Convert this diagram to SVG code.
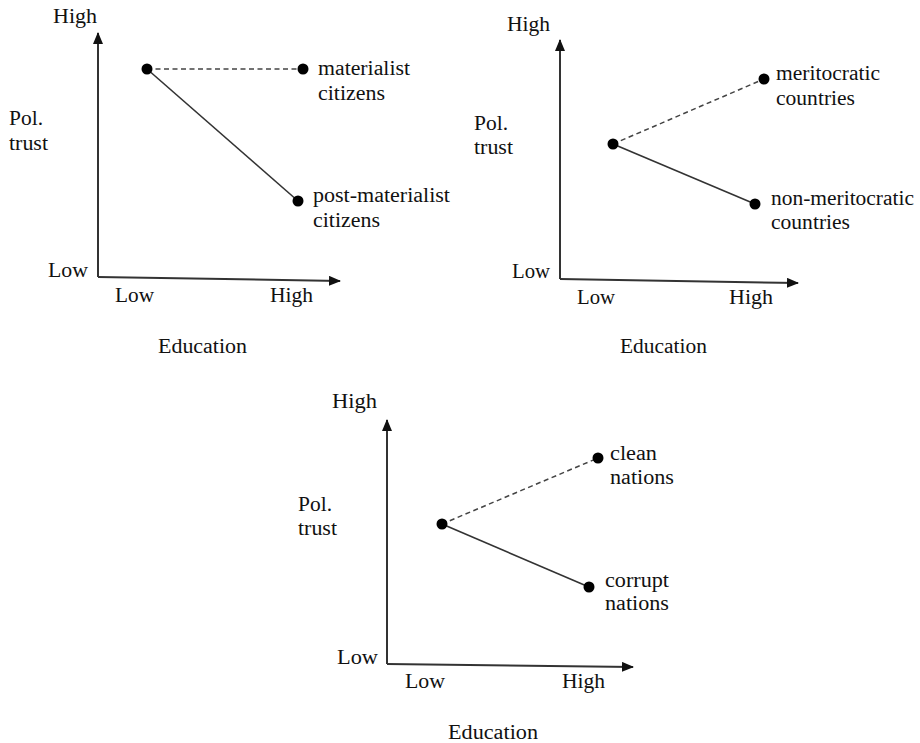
<svg xmlns="http://www.w3.org/2000/svg" width="920" height="743" viewBox="0 0 920 743">
<style>
text{font-family:'Liberation Serif','Times New Roman',serif;font-size:20px;fill:#111}
.ax{stroke:#333;stroke-width:2;fill:none}
.solid{stroke:#333;stroke-width:1.6;fill:none}
.dash{stroke:#444;stroke-width:1.5;fill:none;stroke-dasharray:5 3.5}
.dot{fill:#000}
</style>
<defs>
<marker id="arr" viewBox="0 0 12 10" refX="11" refY="5" markerWidth="12" markerHeight="10" markerUnits="userSpaceOnUse" orient="auto">
<path d="M0,0 L12,5 L0,10 Z" fill="#111"/>
</marker>
</defs>

<g id="panel1">
<g id="axes1">
<path class="ax" d="M98,277 L98,33" marker-end="url(#arr)"/>
<path class="ax" d="M98,277 L340,281" marker-end="url(#arr)"/>
</g>
<g id="labels1">
<text x="53" y="23" textLength="44" lengthAdjust="spacingAndGlyphs">High</text>
<text x="9" y="125" textLength="34" lengthAdjust="spacingAndGlyphs">Pol.</text>
<text x="9" y="150" textLength="39" lengthAdjust="spacingAndGlyphs">trust</text>
<text x="48" y="277" textLength="40" lengthAdjust="spacingAndGlyphs">Low</text>
<text x="115" y="302" textLength="39" lengthAdjust="spacingAndGlyphs">Low</text>
<text x="270" y="302" textLength="43" lengthAdjust="spacingAndGlyphs">High</text>
<text x="158" y="353" textLength="89" lengthAdjust="spacingAndGlyphs">Education</text>
</g>
<g id="connectors1">
<line class="dash" x1="147" y1="69" x2="303" y2="69"/>
<line class="solid" x1="147" y1="69" x2="298" y2="201"/>
</g>
<g id="n1a"><circle class="dot" cx="147" cy="69" r="5.5"/></g>
<g id="n1b"><circle class="dot" cx="303" cy="69" r="5.5"/>
<text x="318" y="75" textLength="92" lengthAdjust="spacingAndGlyphs">materialist</text>
<text x="318" y="100" textLength="67" lengthAdjust="spacingAndGlyphs">citizens</text></g>
<g id="n1c"><circle class="dot" cx="298" cy="201" r="5.5"/>
<text x="313" y="202" textLength="137" lengthAdjust="spacingAndGlyphs">post-materialist</text>
<text x="313" y="227" textLength="67" lengthAdjust="spacingAndGlyphs">citizens</text></g>
</g>

<g id="panel2">
<g id="axes2">
<path class="ax" d="M560,279 L560,40" marker-end="url(#arr)"/>
<path class="ax" d="M560,279 L798,283" marker-end="url(#arr)"/>
</g>
<g id="labels2">
<text x="507" y="31" textLength="43" lengthAdjust="spacingAndGlyphs">High</text>
<text x="474" y="130" textLength="34" lengthAdjust="spacingAndGlyphs">Pol.</text>
<text x="474" y="154" textLength="39" lengthAdjust="spacingAndGlyphs">trust</text>
<text x="512" y="278" textLength="38" lengthAdjust="spacingAndGlyphs">Low</text>
<text x="577" y="304" textLength="38" lengthAdjust="spacingAndGlyphs">Low</text>
<text x="729" y="304" textLength="44" lengthAdjust="spacingAndGlyphs">High</text>
<text x="620" y="353" textLength="87" lengthAdjust="spacingAndGlyphs">Education</text>
</g>
<g id="connectors2">
<line class="dash" x1="613" y1="144" x2="764" y2="79"/>
<line class="solid" x1="613" y1="144" x2="755" y2="204"/>
</g>
<g id="n2a"><circle class="dot" cx="613" cy="144" r="5.5"/></g>
<g id="n2b"><circle class="dot" cx="764" cy="79" r="5.5"/>
<text x="776" y="80" textLength="104" lengthAdjust="spacingAndGlyphs">meritocratic</text>
<text x="776" y="105" textLength="79" lengthAdjust="spacingAndGlyphs">countries</text></g>
<g id="n2c"><circle class="dot" cx="755" cy="204" r="5.5"/>
<text x="771" y="205" textLength="143" lengthAdjust="spacingAndGlyphs">non-meritocratic</text>
<text x="771" y="229" textLength="79" lengthAdjust="spacingAndGlyphs">countries</text></g>
</g>

<g id="panel3">
<g id="axes3">
<path class="ax" d="M387,664 L387,420" marker-end="url(#arr)"/>
<path class="ax" d="M387,664 L633,667" marker-end="url(#arr)"/>
</g>
<g id="labels3">
<text x="332" y="408" textLength="45" lengthAdjust="spacingAndGlyphs">High</text>
<text x="298" y="511" textLength="34" lengthAdjust="spacingAndGlyphs">Pol.</text>
<text x="298" y="535" textLength="39" lengthAdjust="spacingAndGlyphs">trust</text>
<text x="337" y="664" textLength="41" lengthAdjust="spacingAndGlyphs">Low</text>
<text x="405" y="688" textLength="40" lengthAdjust="spacingAndGlyphs">Low</text>
<text x="562" y="688" textLength="43" lengthAdjust="spacingAndGlyphs">High</text>
<text x="448" y="739" textLength="90" lengthAdjust="spacingAndGlyphs">Education</text>
</g>
<g id="connectors3">
<line class="dash" x1="442" y1="524" x2="598" y2="458"/>
<line class="solid" x1="442" y1="524" x2="589" y2="587"/>
</g>
<g id="n3a"><circle class="dot" cx="442" cy="524" r="5.5"/></g>
<g id="n3b"><circle class="dot" cx="598" cy="458" r="5.5"/>
<text x="610" y="460" textLength="47" lengthAdjust="spacingAndGlyphs">clean</text>
<text x="610" y="484" textLength="64" lengthAdjust="spacingAndGlyphs">nations</text></g>
<g id="n3c"><circle class="dot" cx="589" cy="587" r="5.5"/>
<text x="605" y="587" textLength="64" lengthAdjust="spacingAndGlyphs">corrupt</text>
<text x="605" y="610" textLength="64" lengthAdjust="spacingAndGlyphs">nations</text></g>
</g>
</svg>
